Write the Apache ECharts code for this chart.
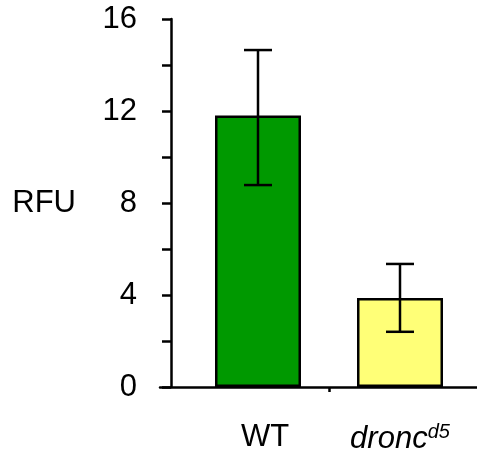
<!DOCTYPE html>
<html>
<head>
<meta charset="utf-8">
<script src="https://cdn.jsdelivr.net/npm/echarts@6/dist/echarts.min.js"></script>
<style>
  html, body { margin: 0; padding: 0; background: #fff; }
  #chart { width: 477px; height: 461px; }
</style>
</head>
<body>
<div id="chart"></div>
<script>
// Genotypes and fluorescence readings
const categories = ['WT', 'dronc'];
const meanRFU = [11.8, 3.87];
const errLow = [8.78, 2.4];
const errHigh = [14.65, 5.35];
const barColors = ['#009900', '#ffff77'];
const yTicks = { min: 0, max: 16, step: 2, labelStep: 4 };

const FONT = '"Liberation Sans", Arial, sans-serif';
const FS = 31;

const chart = echarts.init(document.getElementById('chart'));

const errorData = categories.map((c, i) => [i, errLow[i], errHigh[i]]);

chart.setOption({
  animation: false,
  backgroundColor: '#ffffff',
  grid: [
    { left: 187, right: 6, top: 19, bottom: 74 },
    { left: 160, right: 0, top: 19, bottom: 74 }
  ],
  xAxis: [
    {
      type: 'category',
      gridIndex: 0,
      data: categories,
      axisLine: { show: false },
      axisTick: { show: false },
      axisLabel: {
        interval: 0,
        hideOverlap: false,
        margin: 35,
        fontFamily: FONT,
        fontSize: FS,
        color: '#000',
        formatter: (v) => v === 'dronc' ? '{i|dronc}{sup|d5}' : '{n|' + v + '}',
        rich: {
          n: { fontFamily: FONT, fontSize: FS, color: '#000', padding: [0, 0, 0, 14] },
          i: { fontFamily: FONT, fontSize: FS, fontStyle: 'italic', color: '#000' },
          sup: { fontFamily: FONT, fontSize: 20, fontStyle: 'italic', color: '#000', padding: [0, 0, 14, 0] }
        }
      }
    },
    {
      // divider tick between the two genotypes
      type: 'category',
      gridIndex: 0,
      data: ['a', 'b', 'c'],
      position: 'bottom',
      axisLine: { show: false },
      axisLabel: { show: false },
      axisTick: {
        show: true,
        alignWithLabel: true,
        interval: (idx) => idx === 1,
        length: 5,
        lineStyle: { color: '#000', width: 2.5 }
      }
    },
    {
      // baseline running across the full plot
      type: 'value',
      gridIndex: 1,
      min: 0,
      max: 1,
      axisLine: { show: true, onZero: false, lineStyle: { color: '#000', width: 2.5 } },
      axisTick: { show: false },
      axisLabel: { show: false },
      splitLine: { show: false }
    }
  ],
  yAxis: [
    {
      type: 'value',
      gridIndex: 0,
      min: yTicks.min,
      max: yTicks.max,
      interval: yTicks.step,
      offset: 16,
      name: 'RFU',
      nameLocation: 'middle',
      nameRotate: 0,
      nameGap: 95,
      nameTextStyle: { fontFamily: FONT, fontSize: FS, color: '#000', padding: [0, 0, 6, 0] },
      axisLine: { show: true, lineStyle: { color: '#000', width: 2.5 } },
      axisTick: { show: true, length: 9, lineStyle: { color: '#000', width: 2.5 } },
      axisLabel: {
        margin: 34,
        fontFamily: FONT,
        fontSize: FS,
        color: '#000',
        formatter: (v) => (v % yTicks.labelStep === 0 ? String(v) : '')
      },
      splitLine: { show: false }
    },
    {
      type: 'value',
      gridIndex: 1,
      min: 0,
      max: 1,
      show: false
    }
  ],
  series: [
    {
      type: 'bar',
      xAxisIndex: 0,
      yAxisIndex: 0,
      barWidth: 86,
      data: meanRFU.map((v, i) => ({
        value: v,
        itemStyle: { color: barColors[i], borderColor: '#000', borderWidth: 2.5 }
      })),
      z: 2
    },
    {
      type: 'custom',
      xAxisIndex: 0,
      yAxisIndex: 0,
      data: errorData,
      encode: { x: 0, y: [1, 2] },
      z: 3,
      renderItem: (params, api) => {
        const idx = api.value(0);
        const lo = api.coord([idx, api.value(1)]);
        const hi = api.coord([idx, api.value(2)]);
        const half = 14;
        const style = { stroke: '#000', lineWidth: 2.5, fill: null };
        return {
          type: 'group',
          children: [
            { type: 'line', shape: { x1: hi[0], y1: hi[1], x2: lo[0], y2: lo[1] }, style },
            { type: 'line', shape: { x1: hi[0] - half, y1: hi[1], x2: hi[0] + half, y2: hi[1] }, style },
            { type: 'line', shape: { x1: lo[0] - half, y1: lo[1], x2: lo[0] + half, y2: lo[1] }, style }
          ]
        };
      }
    }
  ]
});
</script>
</body>
</html>
